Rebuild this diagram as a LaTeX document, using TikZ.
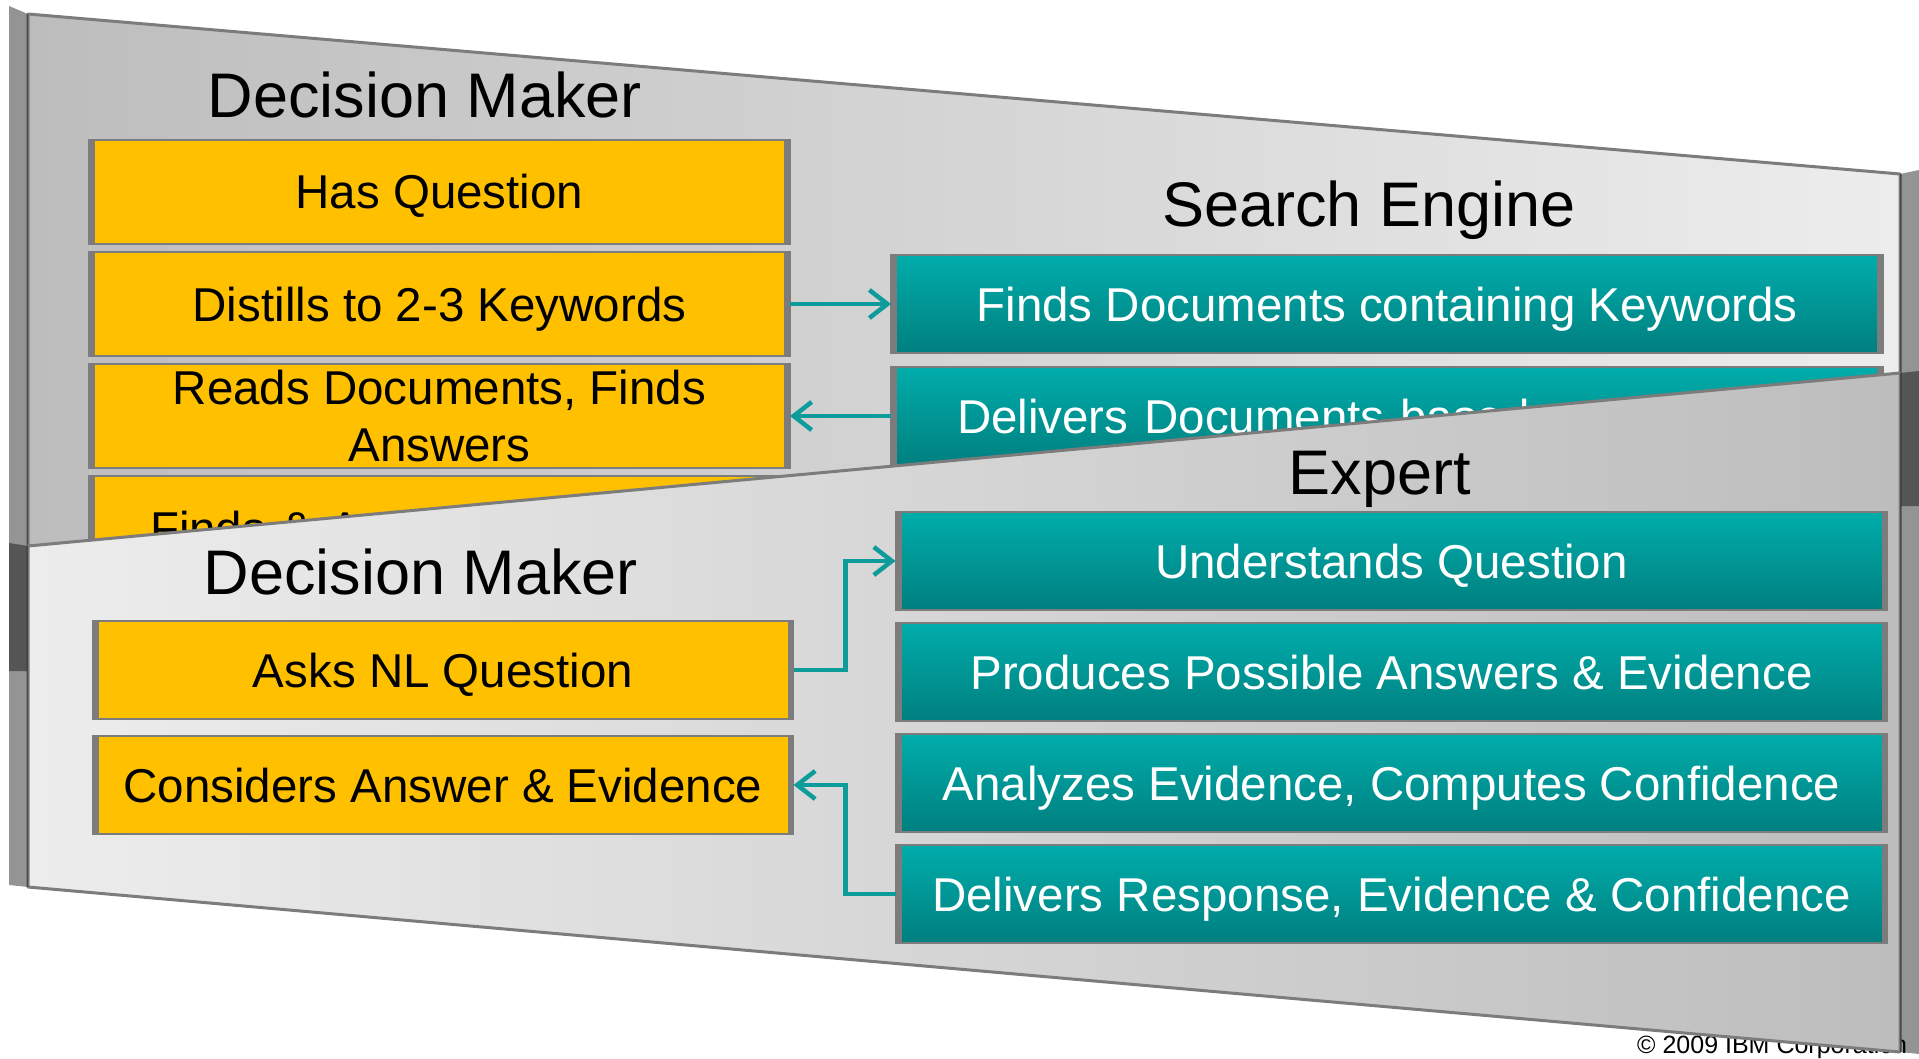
\documentclass[tikz,border=0pt]{standalone}
\usepackage{fontspec}
\setmainfont{Liberation Sans}
\usepackage{xcolor}
\usetikzlibrary{arrows.meta,positioning}

\definecolor{dmyellow}{HTML}{FFC000}
\definecolor{tealtop}{HTML}{00ADAB}
\definecolor{tealbot}{HTML}{007F7F}
\definecolor{flowteal}{HTML}{0E9C9B}
\definecolor{rimgray}{HTML}{7C7C7C}
\definecolor{paneldark}{HTML}{BDBDBD}
\definecolor{panellight}{HTML}{EDEDED}

\newcommand{\itemfont}{\fontsize{47.5}{57}\selectfont}
\newcommand{\titlefont}{\fontsize{63}{70}\selectfont}

\tikzset{
  panelface/.style={draw=rimgray,line width=3pt,line join=bevel},
  panelside/.style={fill=black,fill opacity=0.42},
  sidebars/.style={path picture={
      \fill[rimgray] (path picture bounding box.north west) rectangle ([xshift=6pt]path picture bounding box.south west);
      \fill[rimgray] ([xshift=-6pt]path picture bounding box.north east) rectangle (path picture bounding box.south east);}},
  itembox/.style={rectangle,sidebars,draw=rimgray,line width=1.5pt,inner sep=0pt,outer sep=0pt,
      font=\itemfont,align=center,text height=34pt,text depth=0pt},
  userbox/.style={itembox,fill=dmyellow,minimum width=701pt,minimum height=104pt},
  enginebox/.style={itembox,top color=tealtop,bottom color=tealbot,text=white,minimum width=992pt,minimum height=98pt},
  paneltitle/.style={font=\titlefont,anchor=base,inner sep=0pt},
  flow/.style={draw=flowteal,line width=4.5pt,-{Straight Barb[length=18pt,width=28pt]}}
}

\begin{document}
\begin{tikzpicture}[x=1pt,y=-1pt]
  \useasboundingbox[fill=white] (0,0) rectangle (1919,1059);

  % footer, partly under the front panel
  \node[font=\fontsize{25}{30}\selectfont,anchor=base west,inner sep=0pt] (copy) at (1637,1053) {© 2009 IBM Corporation};

  % Back panel: search engine
  \draw[panelface,left color=paneldark,right color=panellight] (28,14) -- (1900,174) -- (1900,506) -- (28,671) -- cycle;
  \fill[panelside] (9,6) -- (28,14) -- (28,671) -- (9,671) -- cycle;
  \fill[panelside] (1900,174) -- (1919,170) -- (1919,506) -- (1900,506) -- cycle;

  \node[paneltitle] (dmback) at (425,118) {Decision Maker};
  \node[paneltitle] (setitle) at (1369,227) {Search Engine};

  \node[userbox] (hasq) at (439.5,192) {Has Question};
  \node[userbox,below=8pt of hasq] (distill) {Distills to 2-3 Keywords};
  \node[userbox,below=8pt of distill,text height=91pt] (reads) {Reads Documents, Finds\\Answers};
  \node[userbox,below=8pt of reads,text width=579pt,align=left] (findev) {Finds \& A};

  \node[enginebox] (finddocs) at (1387,304) {Finds Documents containing Keywords};
  \node[enginebox,below=14pt of finddocs,text width=860pt,align=left] (deldocs) {Delivers Documents based};

  \draw[flow] (distill) -- (finddocs);
  \draw[flow] (deldocs) -- (reads);

  % Front panel: expert
  \draw[panelface,left color=panellight,right color=paneldark] (28,546) -- (1900,373) -- (1900,1052) -- (28,887) -- cycle;
  \fill[panelside] (9,543) -- (28,546) -- (28,887) -- (9,885) -- cycle;
  \fill[panelside] (1900,373) -- (1919,371) -- (1919,1054) -- (1900,1052) -- cycle;

  \node[paneltitle] (dmfront) at (421,594) {Decision Maker};
  \node[paneltitle] (extitle) at (1380,494) {Expert};

  \node[userbox,minimum height=98pt] (asks) at (443,670) {Asks NL Question};
  \node[userbox,minimum height=98pt,below=17pt of asks] (considers) {Considers Answer \& Evidence};

  \node[enginebox] (understands) at (1391.5,561) {Understands Question};
  \node[enginebox,below=13pt of understands] (produces) {Produces Possible Answers \& Evidence};
  \node[enginebox,below=13pt of produces] (analyzes) {Analyzes Evidence, Computes Confidence};
  \node[enginebox,below=13pt of analyzes] (delresp) {Delivers Response, Evidence \& Confidence};

  \draw[flow] (asks.east) -- ++(52,0) |- (understands.west);
  \draw[flow] (delresp.west) -- ++(-50,0) |- (considers.east);
\end{tikzpicture}
\end{document}
